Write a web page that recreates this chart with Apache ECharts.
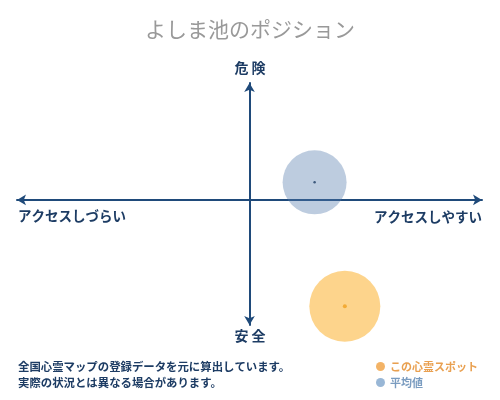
<!DOCTYPE html>
<html>
<head>
<meta charset="utf-8">
<script src="https://cdn.jsdelivr.net/npm/echarts@6/dist/echarts.min.js"></script>
<style>
html, body { margin: 0; padding: 0; background: #fff; }
#chart { width: 500px; height: 400px; }
</style>
</head>
<body>
<div id="chart"></div>
<script>
// ポジションデータ
var seriesNames = ['この心霊スポット', '平均値'];
var accessValues = [41, 28];   // 横軸: アクセスしづらい(-) ～ アクセスしやすい(+)
var dangerValues = [-91, 15];  // 縦軸: 安全(-) ～ 危険(+)
var axisLabels = { top: '危 険', bottom: '安 全', left: 'アクセスしづらい', right: 'アクセスしやすい' };
var noteLines = ['全国心霊マップの登録データを元に算出しています。', '実際の状況とは異なる場合があります。'];

var font = '"Noto Sans CJK JP", sans-serif';
var navy = '#1d3c64';
var axisColor = '#1f4a7a';

var chart = echarts.init(document.getElementById('chart'));

function textEl(text, x, y, opt) {
	opt = opt || {};
	return {
		type: 'text', x: x, y: y,
		style: {
			text: text,
			fill: opt.color || navy,
			font: (opt.weight || 'bold') + ' ' + (opt.size || 11) + 'px ' + font,
			align: opt.align || 'left',
			verticalAlign: 'middle'
		}
	};
}

var option = {
	backgroundColor: '#fff',
	animation: false,
	title: {
		text: 'よしま池のポジション',
		left: 'center', top: 14,
		textStyle: { color: '#999', fontSize: 21, fontWeight: 'normal', fontFamily: font }
	},
	grid: { left: 17, right: 18, top: 83, bottom: 75 },
	xAxis: {
		type: 'value', min: -100, max: 100,
		axisLine: { onZero: true, lineStyle: { color: axisColor, width: 2 }, symbol: ['arrow', 'arrow'], symbolSize: [8, 9] },
		axisTick: { show: false }, axisLabel: { show: false }, splitLine: { show: false }
	},
	yAxis: {
		type: 'value', min: -107, max: 100,
		axisLine: { onZero: true, lineStyle: { color: axisColor, width: 2 }, symbol: ['arrow', 'arrow'], symbolSize: [8, 9] },
		axisTick: { show: false }, axisLabel: { show: false }, splitLine: { show: false }
	},
	legend: {
		orient: 'vertical', left: 376, top: 361, itemGap: 5, padding: 0,
		icon: 'circle', itemWidth: 9, itemHeight: 9,
		textStyle: { fontFamily: font, fontSize: 11, fontWeight: 'bold' },
		data: [
			{ name: seriesNames[0], itemStyle: { color: '#f0a040' }, textStyle: { color: '#e9a050' } },
			{ name: seriesNames[1], itemStyle: { color: '#7fa5cc' }, textStyle: { color: '#7a9cc0' } }
		]
	},
	series: [
		{
			name: seriesNames[0], type: 'scatter', symbolSize: 71, z: 2,
			itemStyle: { color: 'rgba(252,183,64,0.75)' },
			data: [[accessValues[0], dangerValues[0]]]
		},
		{
			name: seriesNames[1], type: 'scatter', symbolSize: 64, z: 2,
			itemStyle: { color: 'rgba(83,123,173,0.48)' },
			data: [[accessValues[1], dangerValues[1]]]
		},
		{
			name: 'spot-dot', type: 'scatter', symbolSize: 4, z: 3,
			itemStyle: { color: '#f0a020' },
			data: [[accessValues[0], dangerValues[0]]]
		},
		{
			name: 'avg-dot', type: 'scatter', symbolSize: 2.5, z: 3,
			itemStyle: { color: '#1d3c64' },
			data: [[accessValues[1], dangerValues[1]]]
		}
	],
	graphic: [
		textEl(axisLabels.top, 250, 68, { align: 'center', size: 14 }),
		textEl(axisLabels.bottom, 250, 336, { align: 'center', size: 14 }),
		textEl(axisLabels.left, 18, 216, { size: 13.5 }),
		textEl(axisLabels.right, 482, 217, { align: 'right', size: 13.5 }),
		textEl(noteLines[0], 18, 367, { size: 11.4 }),
		textEl(noteLines[1], 18, 383, { size: 11.4 })
	]
};
chart.setOption(option);
</script>
</body>
</html>
